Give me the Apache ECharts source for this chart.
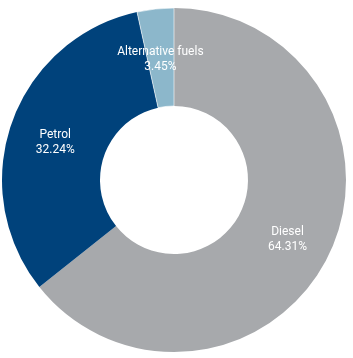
<!DOCTYPE html>
<html><head><meta charset="utf-8">
<script src="https://cdn.jsdelivr.net/npm/echarts@6/dist/echarts.min.js"></script>
<style>html,body{margin:0;padding:0;background:#fff}#c{width:353px;height:358px}</style>
</head><body><div id="c"></div>
<script>
const categories = ["Diesel", "Petrol", "Alternative fuels"];
const values = [64.31, 32.24, 3.45];
const colors = ["#a7a9ac", "#00427b", "#8cb7cb"];
const chart = echarts.init(document.getElementById('c'), null, {renderer: 'canvas'});
chart.setOption({
  animation: false,
  series: [{
    type: 'pie',
    center: [174, 180],
    radius: [74, 172],
    startAngle: 90,
    clockwise: true,
    avoidLabelOverlap: false,
    label: {
      show: true, position: 'inside', color: '#fff',
      fontFamily: 'Roboto', fontSize: 12, lineHeight: 15,
      formatter: p => p.name + '\n' + p.value.toFixed(2) + '%'
    },
    labelLayout: function () { return {dy: 5}; },
    labelLine: {show: false},
    data: categories.map((c, i) => ({name: c, value: values[i],
      itemStyle: {color: colors[i], borderColor: '#fff', borderWidth: i === 2 ? 0.6 : 0}}))
  }]
});
</script></body></html>
